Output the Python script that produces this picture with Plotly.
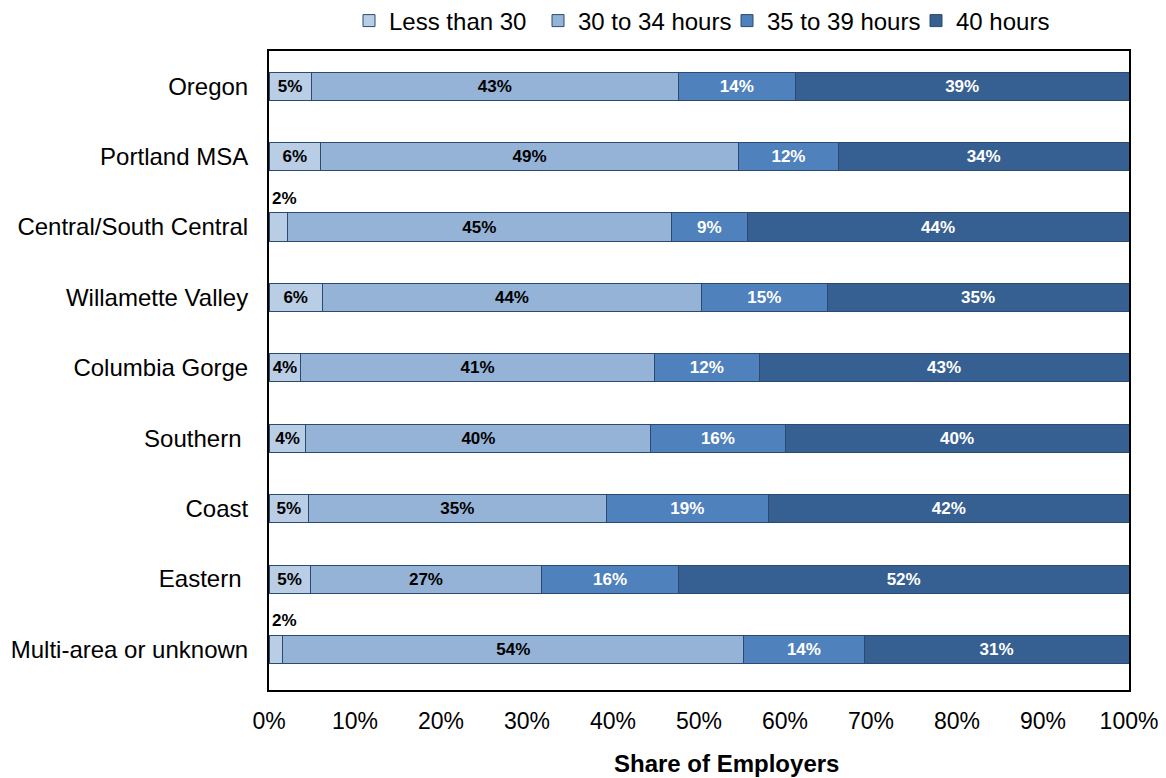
import plotly.graph_objects as go

regions = ["Oregon", "Portland MSA", "Central/South Central", "Willamette Valley",
           "Columbia Gorge", "Southern ", "Coast", "Eastern ", "Multi-area or unknown"]
series_names = ["Less than 30", "30 to 34 hours", "35 to 39 hours", "40 hours"]
less_than_30 = [4.9, 6.0, 2.1, 6.2, 3.7, 4.3, 4.6, 4.8, 1.6]
h30_34 = [42.7, 48.6, 44.7, 44.1, 41.1, 40.1, 34.6, 26.9, 53.6]
h35_39 = [13.6, 11.6, 8.8, 14.6, 12.2, 15.6, 18.9, 15.9, 14.0]
h40 = [38.8, 33.8, 44.4, 35.1, 43.0, 40.0, 41.9, 52.4, 30.8]
x_ticks = [0, 10, 20, 30, 40, 50, 60, 70, 80, 90, 100]

series_values = [less_than_30, h30_34, h35_39, h40]
colors = ["#b9cde5", "#95b3d7", "#4f81bd", "#376092"]
text_colors = ["black", "black", "white", "white"]
FONT = "Liberation Sans, Arial, sans-serif"

L, R, T, B = 269, 1129, 51, 690
W, H = 1166, 778

fig = go.Figure()
annotations = []
for name, vals, col, tcol in zip(series_names, series_values, colors, text_colors):
    texts = []
    for reg, v in zip(regions, vals):
        lab = f"{round(v)}%"
        if v < 3:
            texts.append("")
            annotations.append(dict(x=0, y=reg, xref="x", yref="y", text=f"<b>{lab}</b>",
                                    showarrow=False, xanchor="left", yanchor="middle",
                                    xshift=1, yshift=29,
                                    font=dict(family=FONT, size=17, color="black")))
        else:
            texts.append(f"<b>{lab}</b>")
    fig.add_trace(go.Bar(
        name=name, y=regions, x=vals, orientation="h",
        marker=dict(color=col, line=dict(color="#2b4a70", width=1)),
        text=texts, textposition="inside", insidetextanchor="middle", textangle=0,
        textfont=dict(family=FONT, size=17, color=tcol),
        constraintext="none",
    ))

annotations.append(dict(x=(726 - L) / (R - L), y=-(764 - B) / (B - T), xref="paper", yref="paper",
                        text="<b>Share of Employers</b>",
                        showarrow=False, xanchor="center", yanchor="middle",
                        font=dict(family=FONT, size=24, color="black")))

fig.update_layout(
    barmode="stack",
    bargap=0.6,
    width=W, height=H,
    margin=dict(l=L, r=W - R, t=T, b=H - B, autoexpand=False),
    plot_bgcolor="white", paper_bgcolor="white",
    font=dict(family=FONT, size=23, color="black"),
    uniformtext=dict(minsize=17, mode="show"),
    legend=dict(orientation="h", x=(349 - L) / (R - L), xanchor="left",
                y=(B - 21) / (B - T), yanchor="middle",
                font=dict(size=24), traceorder="normal", itemwidth=30,
                entrywidth=144, entrywidthmode="pixels",
                bgcolor="rgba(0,0,0,0)"),
    annotations=annotations,
    showlegend=True,
)
fig.update_xaxes(range=[0, 100], tickvals=x_ticks, ticktext=[f"{t}%" for t in x_ticks],
                 showgrid=False, zeroline=False, showline=True, linecolor="black",
                 linewidth=2, mirror=True, ticks="", ticklabelstandoff=9,
                 tickfont=dict(size=23))
fig.update_yaxes(categoryorder="array", categoryarray=regions, autorange="reversed",
                 showgrid=False, showline=True, linecolor="black", linewidth=2, mirror=True,
                 ticks="", ticklabelstandoff=14, tickfont=dict(size=24))

fig.write_html("out.html", config={"displayModeBar": False},
               post_script="document.body.style.margin='0';document.body.style.overflow='hidden';")
